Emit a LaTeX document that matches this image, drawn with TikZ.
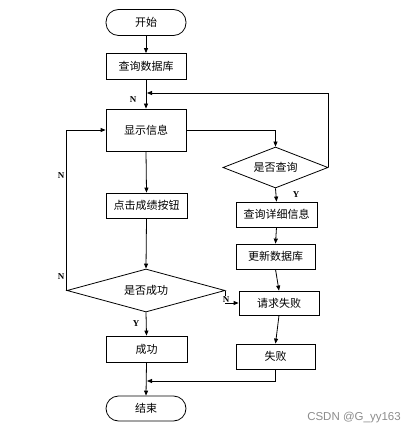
\documentclass[tikz,border=0pt]{standalone}
\usepackage{fontspec}
\setmainfont{Liberation Serif}
\newfontfamily\cjk{Noto Sans CJK SC}
\newfontfamily\wmfont{Liberation Sans}
\usetikzlibrary{arrows.meta,shapes.geometric}
\begin{document}
\begin{tikzpicture}[x=1pt,y=-1pt,
  every node/.style={font=\cjk\fontsize{11}{13}\selectfont},
  box/.style={draw,line width=0.8pt,rectangle,inner sep=0pt},
  term/.style={draw,line width=0.8pt,rectangle,rounded corners=12.5pt,inner sep=0pt,minimum width=80pt,minimum height=26pt},
  dia/.style={draw,line width=0.8pt,diamond,inner sep=0pt},
  conn/.style={line width=0.8pt,-{Triangle[length=5pt,width=4pt]}},
  yn/.style={font=\bfseries\fontsize{9}{10}\selectfont,inner sep=1pt},
]
\useasboundingbox (0,0) rectangle (418,435);
\node[term] (start) at (146,22.5) {开始};
\node[box,minimum width=80pt,minimum height=26pt] (db) at (146,66.5) {查询数据库};
\node[box,minimum width=80pt,minimum height=42pt] (show) at (146,130) {显示信息};
\node[box,minimum width=81pt,minimum height=25pt] (click) at (146.5,205.5) {点击成绩按钮};
\node[dia,minimum width=158pt,minimum height=43pt,aspect=3.67] (d2) at (146,290.5) {是否成功};
\node[box,minimum width=81pt,minimum height=26pt] (ok) at (146.5,349) {成功};
\node[term,minimum height=25pt] (endn) at (146,408.5) {结束};
\node[dia,minimum width=105pt,minimum height=41pt,aspect=2.56] (d1) at (275.5,167.5) {是否查询};
\node[box,minimum width=81pt,minimum height=25pt] (detail) at (276.5,214.5) {查询详细信息};
\node[box,minimum width=79pt,minimum height=25pt] (update) at (275.5,256.5) {更新数据库};
\node[box,minimum width=80pt,minimum height=24pt] (req) at (279,303) {请求失败};
\node[box,minimum width=79pt,minimum height=25pt] (fail) at (275.5,356.5) {失败};
\coordinate (fb) at (147,93);
\coordinate (jn) at (147,381);
\draw[conn] (start) -- (db);
\draw[conn] (db) -- (show);
\draw[conn] (show.east) -| (d1.north);
\draw[conn] (d1.east) |- (fb);
\draw[conn] (d1.south) -- (detail.north);
\draw[conn] (detail.south) -- (update.north);
\draw[conn] (update.south) -- (req.north);
\draw[conn] (req.south) -- (fail.north);
\draw[conn] (show.south) -- (click.north);
\draw[conn] (click.south) -- (d2.north);
\draw[conn] (d2.west) |- (show.west);
\draw[conn] (d2.east) |- (req.west);
\draw[conn] (d2.south) -- (ok.north);
\draw[conn] (ok.south) -- (endn.north);
\draw[conn] (fail.south) |- (jn);
\node[yn] (n1) at (133,100) {N};
\node[yn] (y1) at (296,195) {Y};
\node[yn] (n2) at (61,176) {N};
\node[yn] (n3) at (61,277) {N};
\node[yn,fill=white,inner sep=0.5pt] (n4) at (226,299.5) {N};
\node[yn] (y2) at (136,324) {Y};
\node[font=\wmfont\fontsize{11.5}{13}\selectfont,text=black!45] (wm) at (354,418) {CSDN @G\_yy163};
\end{tikzpicture}
\end{document}
